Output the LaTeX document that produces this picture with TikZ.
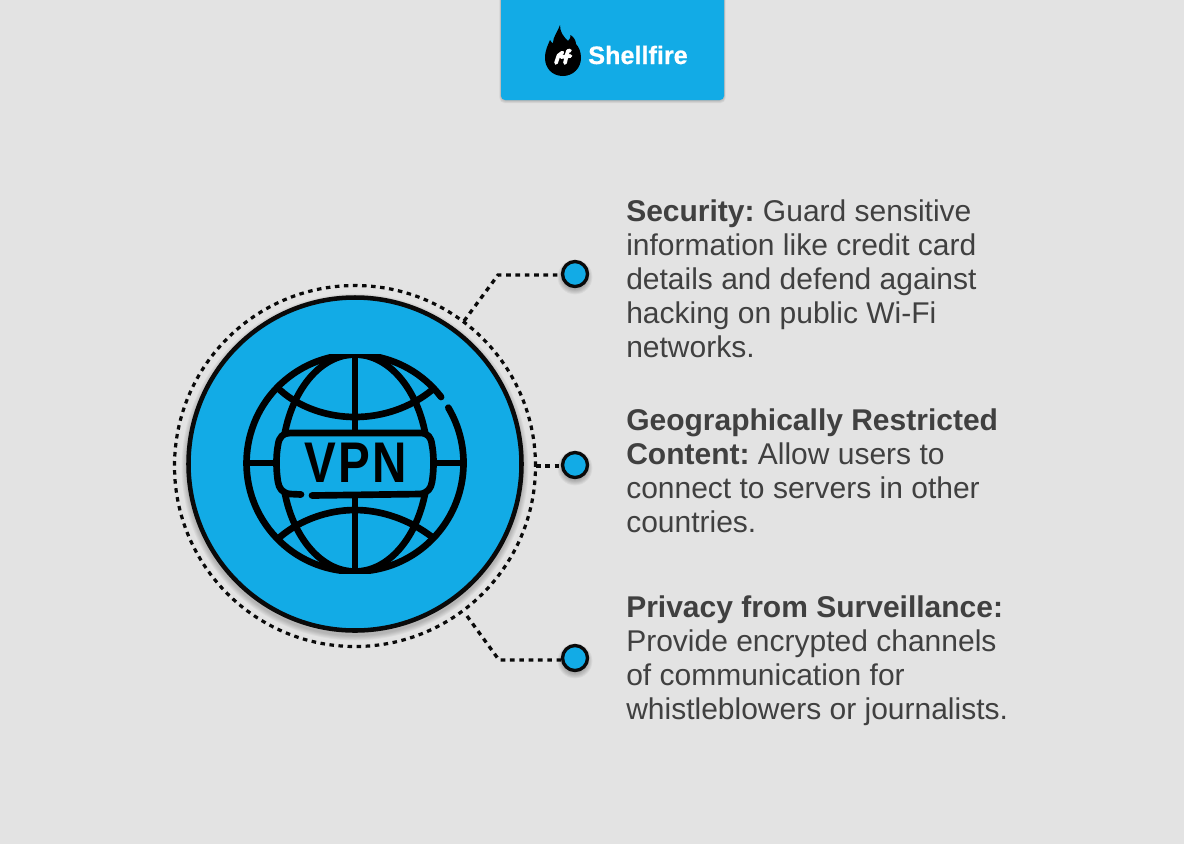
\documentclass[tikz,border=0pt]{standalone}
\usepackage{fontspec}
\setmainfont{Liberation Sans}
\newfontfamily\vpnfont[LetterSpace=5]{Liberation Sans Bold}
\newfontfamily\brandfont[FakeBold=0.6]{Liberation Sans Bold}
\frenchspacing
\usetikzlibrary{calc}
\definecolor{bg}{HTML}{E3E3E3}
\definecolor{sky}{HTML}{12ABE6}
\definecolor{ink}{HTML}{404040}
\definecolor{blk}{HTML}{0A0A0A}
\tikzset{
  x=0.75pt,y=-0.75pt,
  hub/.style={circle,fill=sky,draw=blk,line width=3.4pt,minimum size=333*0.75pt,inner sep=0pt},
  ring/.style={circle,draw=blk,line width=2.4pt,dash pattern=on 3.4pt off 3.4pt,minimum size=361*0.75pt,inner sep=0pt},
  dotnode/.style={circle,fill=sky,draw=blk,line width=2.5pt,minimum size=25*0.75pt,inner sep=0pt},
  link/.style={draw=blk,line width=2.5pt,dash pattern=on 3.5pt off 3.5pt},
  glyph/.style={draw=black,line width=5pt,line cap=round,line join=round},
  markstroke/.style={draw=white,line width=2.8pt,line cap=round,line join=round},
  desc/.style={anchor=north west,align=left,text=ink,inner sep=0pt,font=\fontsize{22.5pt}{25.5pt}\selectfont},
}
\newcommand{\softshadow}[4]{% x y r strength
  \foreach \k in {6,5,4,3,2,1}{
    \fill[black,opacity=#4] (#1,#2+3) circle[radius=#3+\k*0.9];
  }
}
\begin{document}
\begin{tikzpicture}
\useasboundingbox (0,0) rectangle (1184,844);
\fill[bg] (0,0) rectangle (1184,844);
% logo card
\foreach \k in {4,3,2,1}{
  \fill[black,opacity=0.05,rounded corners=4pt] (501-\k*0.4,-10) rectangle (724+\k*0.4,100+\k*0.8);
}
\fill[sky,rounded corners=3pt] (501,-10) rectangle (724,100);
\fill[black] (560,25) .. controls (560,32) and (563,36) .. (568,41)
  .. controls (570,39) and (571,37) .. (570.5,35)
  .. controls (574,37) and (576,41) .. (576,44)
  .. controls (579,47) and (581,52) .. (581,58)
  .. controls (581,68) and (573,76) .. (563,76)
  .. controls (552,76) and (545,68) .. (545,58)
  .. controls (545,50) and (548,45) .. (550,40)
  .. controls (551,42) and (552,43) .. (553,43)
  .. controls (553,37) and (557,33) .. (560,25) -- cycle;
\draw[markstroke] (556,63) -- (558.5,55.5) -- (562.5,52.5);
\draw[markstroke] (565,63) -- (567,54) -- (568,51) -- (570,50.5);
\draw[markstroke] (561,57) -- (570.5,56);
\node[anchor=base west,text=white,inner sep=0pt,font=\fontsize{18.9pt}{20pt}\brandfont] (brand) at (588,64) {Shellfire};
% shadows
\softshadow{355}{464}{168}{0.035}
% hub
\node[ring] (halo) at (355,466) {};
\node[hub] (hub) at (355,464) {};
% globe icon
\begin{scope}
\clip (230,354) rectangle (480,573);
\draw[glyph] (441.1,397) arc[start angle=-37.5,delta angle=-353.2,radius=108.5];
\draw[glyph] (355,354) -- (355,430);
\draw[glyph] (355,497) -- (355,573);
\draw[glyph] (248,463) -- (276,463);
\draw[glyph] (434,463) -- (462,463);
\draw[glyph] (280,390) .. controls (300,408) and (328,417) .. (355,417) .. controls (382,417) and (410,408) .. (432,390);
\draw[glyph] (280,537) .. controls (300,520) and (328,510) .. (355,510) .. controls (382,510) and (410,520) .. (432,537);
\end{scope}
\begin{scope}
\clip (230,354) rectangle (480,433) (230,494) rectangle (480,573);
\draw[glyph] (355,463) ellipse[x radius=73,y radius=108.5];
\end{scope}
\draw[glyph] (301,494.5) -- (290,494) .. controls (282,493) and (279,488) .. (278,482)
  .. controls (276,470) and (276,455) .. (278,445)
  .. controls (279,437) and (283,433) .. (290,433)
  -- (420,433) .. controls (428,433) and (431,437) .. (432,445)
  .. controls (434,455) and (434,470) .. (432,482)
  .. controls (431,488) and (428,493) .. (420,494) -- (312,495.5);
\node[inner sep=0pt,font=\fontsize{43pt}{44pt}\vpnfont,text=black,xscale=0.83] (vpn) at (356,463) {VPN};
% connectors
\softshadow{575}{274}{12}{0.045}
\softshadow{575}{465}{12}{0.045}
\softshadow{575}{658}{12}{0.045}
\node[dotnode] (a) at (575,274) {};
\node[dotnode] (b) at (575,465) {};
\node[dotnode] (c) at (575,658) {};
\coordinate (ka) at (498,275);
\coordinate (kc) at (499,660);
\coordinate (fa) at (464,321);
\coordinate (fb) at (536,466);
\coordinate (fc) at (467,616);
\draw[link] (fa) -- (ka) -- (a.west |- ka);
\draw[link] (fb) -- (b.west |- fb);
\draw[link] (fc) -- (kc) -- (c.west |- kc);
% texts
\node[desc] (t1) at (626,199) {\textbf{Security:} Guard sensitive\\information like credit card\\details and defend against\\hacking on public Wi-Fi\\networks.};
\node[desc] (t2) at (626,408) {\textbf{Geographically Restricted}\\\textbf{Content:} Allow users to\\connect to servers in other\\countries.};
\node[desc] (t3) at (626,595) {\textbf{Privacy from Surveillance:}\\Provide encrypted channels\\of communication for\\whistleblowers or journalists.};
\end{tikzpicture}
\end{document}
